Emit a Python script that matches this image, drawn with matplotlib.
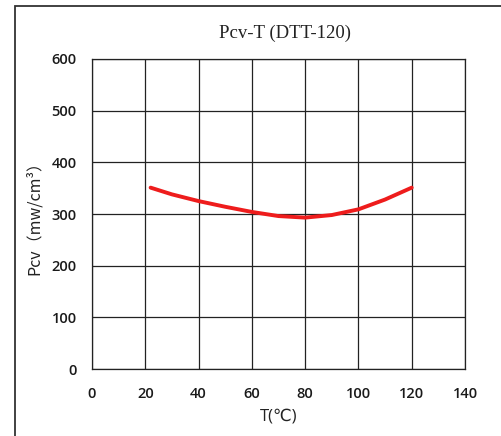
import matplotlib
matplotlib.use('Agg')
import matplotlib.pyplot as plt
from matplotlib.patches import Rectangle

temps = [22, 30, 40, 50, 60, 70, 80, 90, 100, 110, 120]
pcv = [351, 338, 325, 314, 304, 296, 293, 298, 309, 328, 351]

x_ticks = [0, 20, 40, 60, 80, 100, 120, 140]
y_ticks = [0, 100, 200, 300, 400, 500, 600]

fig = plt.figure(figsize=(5.02, 4.36), dpi=100)
ax = fig.add_axes([92 / 502, 67 / 436, 373 / 502, 310 / 436])

# marco exterior
marco = Rectangle((15 / 502, -0.05), 1.2, 1 - 6 / 436 + 0.05, transform=fig.transFigure,
                  fill=False, edgecolor='#333333', lw=1.3, clip_on=False)
fig.patches.append(marco)

ax.plot(temps, pcv, color='#ee1c1c', lw=2.8, solid_capstyle='round', zorder=3)

ax.set_xlim(0, 140)
ax.set_ylim(0, 600)
ax.set_xticks(x_ticks)
ax.set_yticks(y_ticks)
ax.grid(True, color='#222222', lw=0.9)
for s in ax.spines.values():
    s.set_color('#222222')
    s.set_linewidth(0.9)
ax.tick_params(length=0, labelsize=10.5, colors='#1a1a1a')
ax.tick_params(axis='x', pad=13)
ax.tick_params(axis='y', pad=11)
for lab in ax.get_xticklabels() + ax.get_yticklabels():
    lab.set_family('Open Sans')
    lab.set_weight('semibold')

fig.text(285 / 502, 1 - 33 / 436, 'Pcv-T (DTT-120)', family='Liberation Serif',
         fontsize=13.5, ha='center', va='center', color='#222222')
ax.set_xlabel('T(℃)', family=['Open Sans', 'DejaVu Sans'], fontsize=12,
              color='#222222', labelpad=5)
ax.set_ylabel('Pcv（mw/cm³）', family=['Noto Sans CJK SC', 'DejaVu Sans'],
              fontsize=11.5, color='#222222', labelpad=6)

fig.savefig('out.png', dpi=100)
